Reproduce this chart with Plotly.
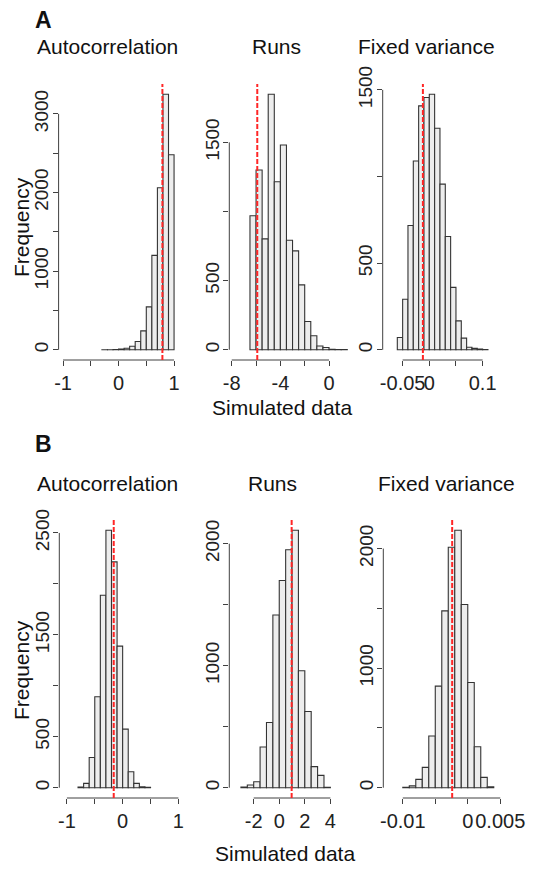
import plotly.graph_objects as go

# ---------------- data ----------------
# Panel A
a_ac_breaks = [-0.3, -0.2, -0.1, 0.0, 0.1, 0.2, 0.3, 0.4, 0.5, 0.6, 0.7, 0.8, 0.9, 1.0]
a_ac_counts = [1, 1, 3, 8, 20, 45, 105, 240, 545, 1200, 2060, 3250, 2480]
a_ac_obs = 0.79

a_runs_breaks = [-6.5, -6.0, -5.5, -5.0, -4.5, -4.0, -3.5, -3.0, -2.5, -2.0, -1.5, -1.0,
                 -0.5, 0.0, 0.5, 1.0, 1.5]
a_runs_counts = [969, 1300, 802, 1848, 1215, 1481, 792, 715, 469, 205, 101, 27, 17, 3, 2, 1]
a_runs_obs = -5.9

a_fv_breaks = [-0.06, -0.05, -0.04, -0.03, -0.02, -0.01, 0.0, 0.01, 0.02, 0.03, 0.04,
               0.05, 0.06, 0.07, 0.08, 0.09, 0.10, 0.11]
a_fv_counts = [71, 292, 717, 1090, 1408, 1456, 1475, 1279, 956, 654, 360, 167, 67, 15, 8, 4, 2]
a_fv_obs = -0.012

# Panel B
b_ac_breaks = [-0.8, -0.7, -0.6, -0.5, -0.4, -0.3, -0.2, -0.1, 0.0, 0.1, 0.2, 0.3, 0.4, 0.5]
b_ac_counts = [6, 42, 297, 892, 1889, 2526, 2216, 1389, 575, 157, 42, 10, 3]
b_ac_obs = -0.16

b_runs_breaks = [-3.0, -2.5, -2.0, -1.5, -1.0, -0.5, 0.0, 0.5, 1.0, 1.5, 2.0, 2.5, 3.0, 3.5, 4.0]
b_runs_counts = [5, 22, 49, 334, 534, 1416, 1699, 1951, 2110, 959, 625, 173, 101, 3]
b_runs_obs = 0.97

b_fv_breaks = [-0.010, -0.009, -0.008, -0.007, -0.006, -0.005, -0.004, -0.003, -0.002,
               -0.001, 0.0, 0.001, 0.002, 0.003, 0.004]
b_fv_counts = [3, 15, 70, 170, 432, 850, 1479, 2011, 2153, 1532, 880, 343, 86, 8]
b_fv_obs = -0.0024

# tick values / labels
a_ac_xt = [-1, -0.5, 0, 0.5, 1];            a_ac_xl = ["-1", "", "0", "", "1"]
a_ac_yt = [0, 500, 1000, 1500, 2000, 2500, 3000]; a_ac_yl = ["0", "", "1000", "", "2000", "", "3000"]
a_runs_xt = [-8, -6, -4, -2, 0];            a_runs_xl = ["-8", "", "-4", "", "0"]
a_runs_yt = [0, 500, 1000, 1500];           a_runs_yl = ["0", "500", "", "1500"]
a_fv_xt = [-0.05, 0, 0.05, 0.1];            a_fv_xl = ["-0.05", "0", "", "0.1"]
a_fv_yt = [0, 500, 1000, 1500];             a_fv_yl = ["0", "500", "", "1500"]
b_ac_xt = [-1, -0.5, 0, 0.5, 1];            b_ac_xl = ["-1", "", "0", "", "1"]
b_ac_yt = [0, 500, 1000, 1500, 2000, 2500]; b_ac_yl = ["0", "500", "", "1500", "", "2500"]
b_runs_xt = [-2, 0, 2, 4];                  b_runs_xl = ["-2", "0", "2", "4"]
b_runs_yt = [0, 500, 1000, 1500, 2000];     b_runs_yl = ["0", "", "1000", "", "2000"]
b_fv_xt = [-0.01, -0.005, 0, 0.005];        b_fv_xl = ["-0.01", "", "0", "0.005"]
b_fv_yt = [0, 500, 1000, 1500, 2000];       b_fv_yl = ["0", "", "1000", "", "2000"]

titles = ["Autocorrelation", "Runs", "Fixed variance"]

# ---------------- layout geometry (pixels of the 535x869 page) ----------------
OFF = 8                      # default page margin around the plot div
W, H = 535 - OFF, 869 - OFF
FONT = "Liberation Sans, Arial, Helvetica, sans-serif"
AX = "#404040"

def fx(p):
    return (p - OFF) / W

def fy(p):
    return 1 - (p - OFF) / H

panels = [
    dict(br=a_ac_breaks, ct=a_ac_counts, obs=a_ac_obs, xt=a_ac_xt, xl=a_ac_xl, yt=a_ac_yt, yl=a_ac_yl,
         xpx=(58.6, 178.5), xr=(-1.08, 1.08), ypx=(84, 360)),
    dict(br=a_runs_breaks, ct=a_runs_counts, obs=a_runs_obs, xt=a_runs_xt, xl=a_runs_xl, yt=a_runs_yt, yl=a_runs_yl,
         xpx=(229.3, 349.7), xr=(-8.2, 1.7), ypx=(84, 360)),
    dict(br=a_fv_breaks, ct=a_fv_counts, obs=a_fv_obs, xt=a_fv_xt, xl=a_fv_xl, yt=a_fv_yt, yl=a_fv_yl,
         xpx=(382.7, 492.0), xr=(-0.0874, 0.1176), ypx=(84, 360)),
    dict(br=b_ac_breaks, ct=b_ac_counts, obs=b_ac_obs, xt=b_ac_xt, xl=b_ac_xl, yt=b_ac_yt, yl=b_ac_yl,
         xpx=(59.3, 184.0), xr=(-1.136, 1.1), ypx=(520, 798)),
    dict(br=b_runs_breaks, ct=b_runs_counts, obs=b_runs_obs, xt=b_runs_xt, xl=b_runs_xl, yt=b_runs_yt, yl=b_runs_yl,
         xpx=(229.3, 334.2), xr=(-3.91, 4.3), ypx=(520, 798)),
    dict(br=b_fv_breaks, ct=b_fv_counts, obs=b_fv_obs, xt=b_fv_xt, xl=b_fv_xl, yt=b_fv_yt, yl=b_fv_yl,
         xpx=(383.3, 510.0), xr=(-0.013, 0.0065), ypx=(520, 798)),
]

fig = go.Figure()
layout = dict(template="none", width=W, height=H, autosize=False,
              margin=dict(l=0, r=0, t=0, b=0, pad=0, autoexpand=False),
              paper_bgcolor="white", plot_bgcolor="rgba(0,0,0,0)",
              showlegend=False, font=dict(family=FONT, color="#222222"))
shapes = []

for i, p in enumerate(panels, start=1):
    br, ct = p["br"], p["ct"]
    centers = [(br[k] + br[k + 1]) / 2 for k in range(len(ct))]
    widths = [br[k + 1] - br[k] for k in range(len(ct))]
    key = "" if i == 1 else str(i)
    xa, ya = "x" + key, "y" + key
    fig.add_trace(go.Bar(x=centers, y=ct, width=widths, xaxis=xa, yaxis=ya,
                         marker=dict(color="#ededed", line=dict(color="#333333", width=1.1)),
                         hoverinfo="x+y"))
    m = max(ct)
    layout["xaxis" + key] = dict(domain=[fx(p["xpx"][0]), fx(p["xpx"][1])], range=list(p["xr"]),
                                 anchor=ya, tickvals=p["xt"], ticktext=p["xl"], ticks="outside",
                                 ticklen=5, tickcolor=AX, tickwidth=1, tickangle=0, automargin=False,
                                 showline=False, showgrid=False, zeroline=False,
                                 tickfont=dict(size=20, family=FONT, color="#222"))
    layout["yaxis" + key] = dict(domain=[fy(p["ypx"][1]), fy(p["ypx"][0])], range=[-0.04 * m, 1.04 * m],
                                 anchor=xa, tickvals=p["yt"], ticktext=p["yl"], ticks="outside",
                                 ticklen=5, tickcolor=AX, tickwidth=1, tickangle=-90, automargin=False,
                                 ticklabelstandoff=-3,
                                 showline=False, showgrid=False, zeroline=False,
                                 tickfont=dict(size=19, family=FONT, color="#222"))
    # R-style detached axis lines spanning first..last tick
    shapes.append(dict(type="line", xref=xa, yref=ya + " domain", x0=p["xt"][0], x1=p["xt"][-1],
                       y0=0, y1=0, line=dict(color=AX, width=1)))
    shapes.append(dict(type="line", xref=xa + " domain", yref=ya, x0=0, x1=0,
                       y0=p["yt"][0], y1=p["yt"][-1], line=dict(color=AX, width=1)))
    # observed value
    shapes.append(dict(type="line", xref=xa, yref=ya + " domain", x0=p["obs"], x1=p["obs"],
                       y0=0, y1=1, line=dict(color="#ff2626", width=2, dash="5px,2px")))

layout["shapes"] = shapes

ann = []
def text(x, y, s, size=21, bold=False, angle=0, xanchor="center"):
    ann.append(dict(xref="paper", yref="paper", x=fx(x), y=fy(y), text=f"<b>{s}</b>" if bold else s,
                    showarrow=False, xanchor=xanchor, yanchor="middle", textangle=angle,
                    font=dict(size=size, family=FONT, color="#111")))

text(33, 20, "A", size=23, bold=True, xanchor="left")
text(33, 444, "B", size=23, bold=True, xanchor="left")
for (xc, s) in zip([107.5, 276.7, 426.7], titles):
    text(xc, 47, s)
for (xc, s) in zip([107.5, 272.7, 446.7], titles):
    text(xc, 483, s)
text(21, 227, "Frequency", angle=-90)
text(21, 670, "Frequency", angle=-90)
text(282, 408, "Simulated data")
text(285, 853, "Simulated data")
layout["annotations"] = ann

fig.update_layout(**layout)
fig.write_html("out.html")
